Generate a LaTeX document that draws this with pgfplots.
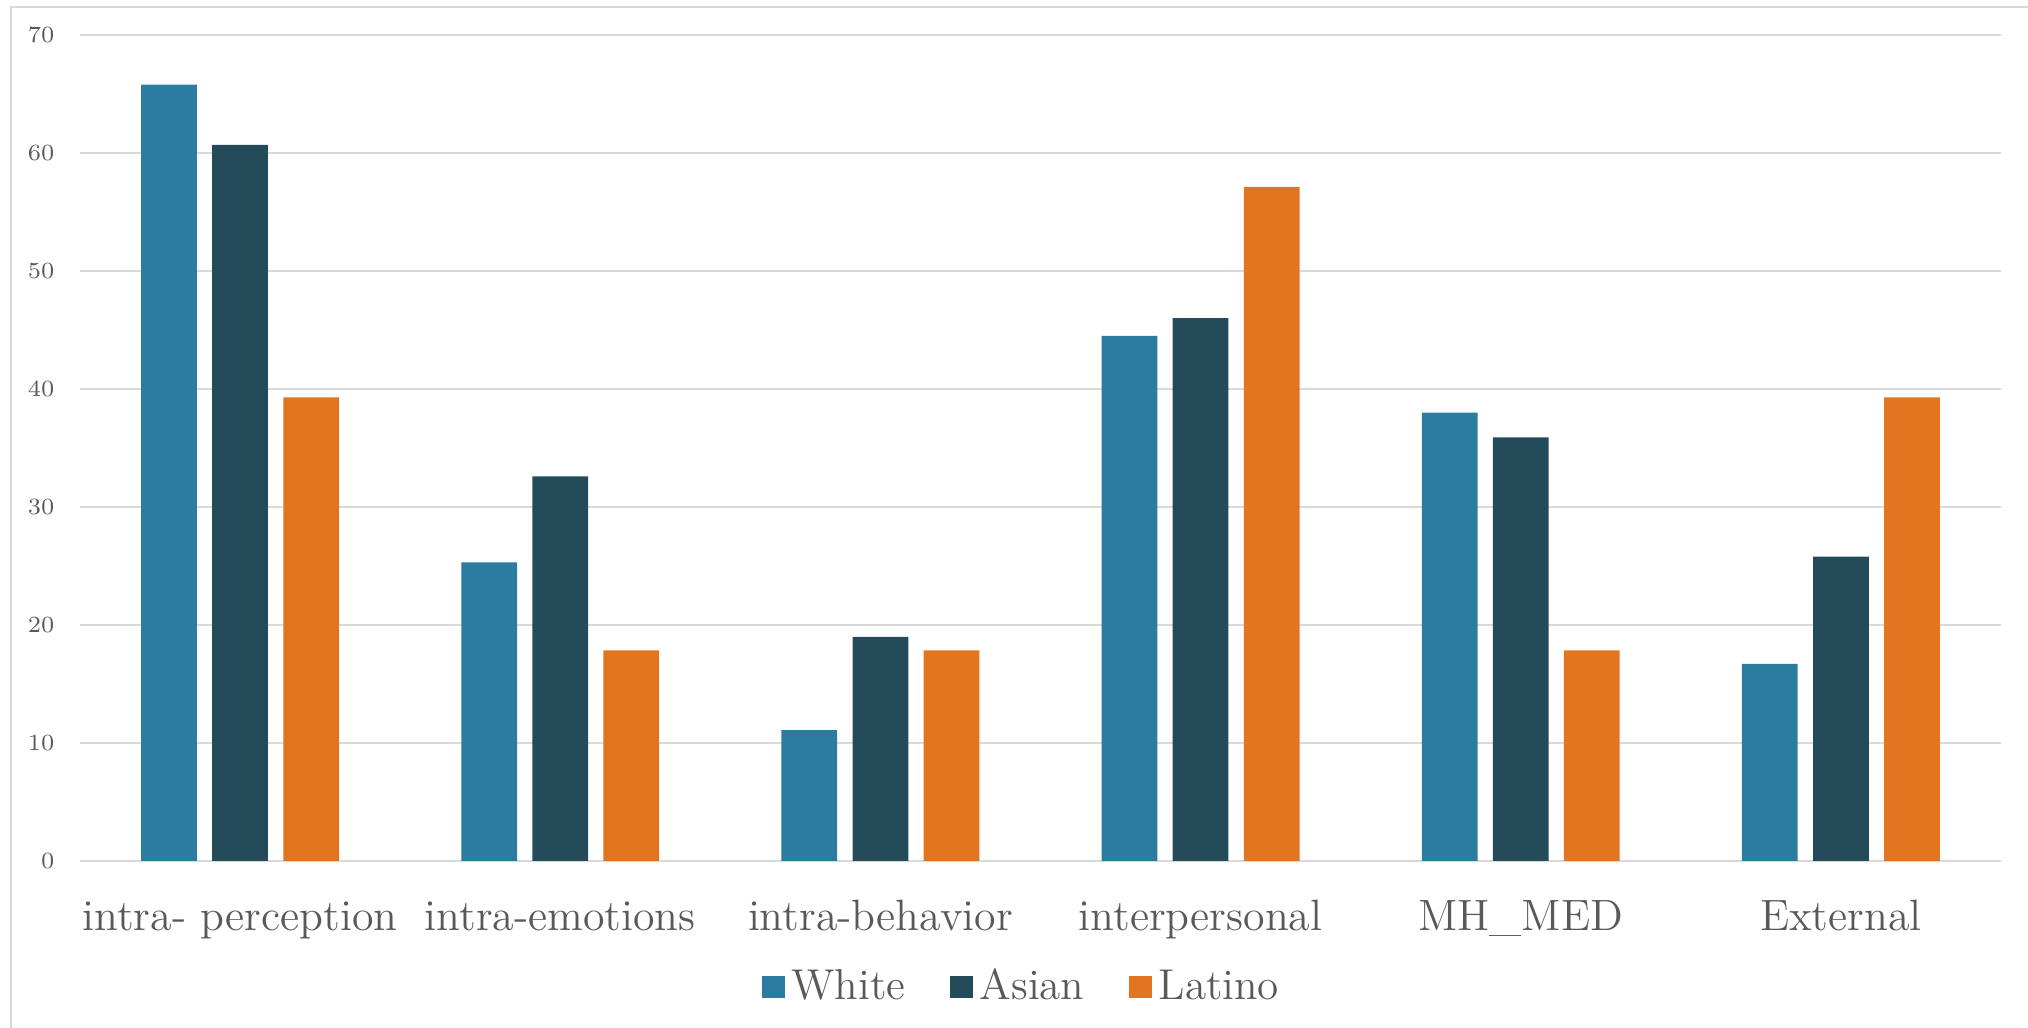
\documentclass[border=0pt]{standalone}
\usepackage{pgfplots}
\pgfplotsset{compat=1.18}
\definecolor{cWhite}{RGB}{44,123,160}
\definecolor{cAsian}{RGB}{36,75,90}
\definecolor{cLatino}{RGB}{227,117,32}
\definecolor{gridgrey}{RGB}{217,217,217}
\definecolor{textgrey}{RGB}{89,89,89}
\begin{document}
\begin{tikzpicture}
\path[use as bounding box] (0,0) rectangle (608.4bp,308.4bp);
\draw[gridgrey, line width=0.6bp] (3.3bp,-10bp) -- (3.3bp,306.3bp) -- (620bp,306.3bp);
\begin{axis}[
  at={(24bp,50.1bp)}, anchor=south west,
  width=576.3bp, height=247.8bp, scale only axis,
  ybar,
  xmin=-0.5, xmax=5.5, ymin=0, ymax=70,
  enlargelimits=false,
  xtick={0,...,5},
  xticklabels={intra- perception, intra-emotions, intra-behavior, interpersonal, MH\_MED, External},
  ytick={0,10,...,70},
  ymajorgrids,
  grid style={gridgrey, line width=0.6bp},
  axis line style={draw=none},
  major tick length=0pt,
  tick style={draw=none},
  yticklabel style={font=\fontsize{6.9}{8}\selectfont, text=textgrey, anchor=east, xshift=-4.2bp},
  xticklabel style={font=\fontsize{13.2}{15}\selectfont, text=textgrey, anchor=base, yshift=-20.7bp},
  legend style={at={(0.4914,-0.1525)}, anchor=center, legend columns=-1, draw=none, fill=none,
    font=\fontsize{13}{15}\selectfont, text=textgrey,
    /tikz/every even column/.append style={column sep=11.5bp}},
  legend image code/.code={\fill[#1] (-1.2bp,-3.4bp) rectangle (5.6bp,3.4bp);},
]
\addplot[fill=cWhite, draw=none, bar width=0.174, bar shift=-0.222] coordinates {(0,65.8) (1,25.3) (2,11.1) (3,44.5) (4,38.0) (5,16.7)};
\addplot[fill=cAsian, draw=none, bar width=0.174, bar shift=0] coordinates {(0,60.7) (1,32.6) (2,19.0) (3,46.0) (4,35.9) (5,25.8)};
\addplot[fill=cLatino, draw=none, bar width=0.174, bar shift=0.222] coordinates {(0,39.29) (1,17.86) (2,17.86) (3,57.14) (4,17.86) (5,39.29)};
\legend{White, Asian, Latino}
\end{axis}
\end{tikzpicture}
\end{document}
